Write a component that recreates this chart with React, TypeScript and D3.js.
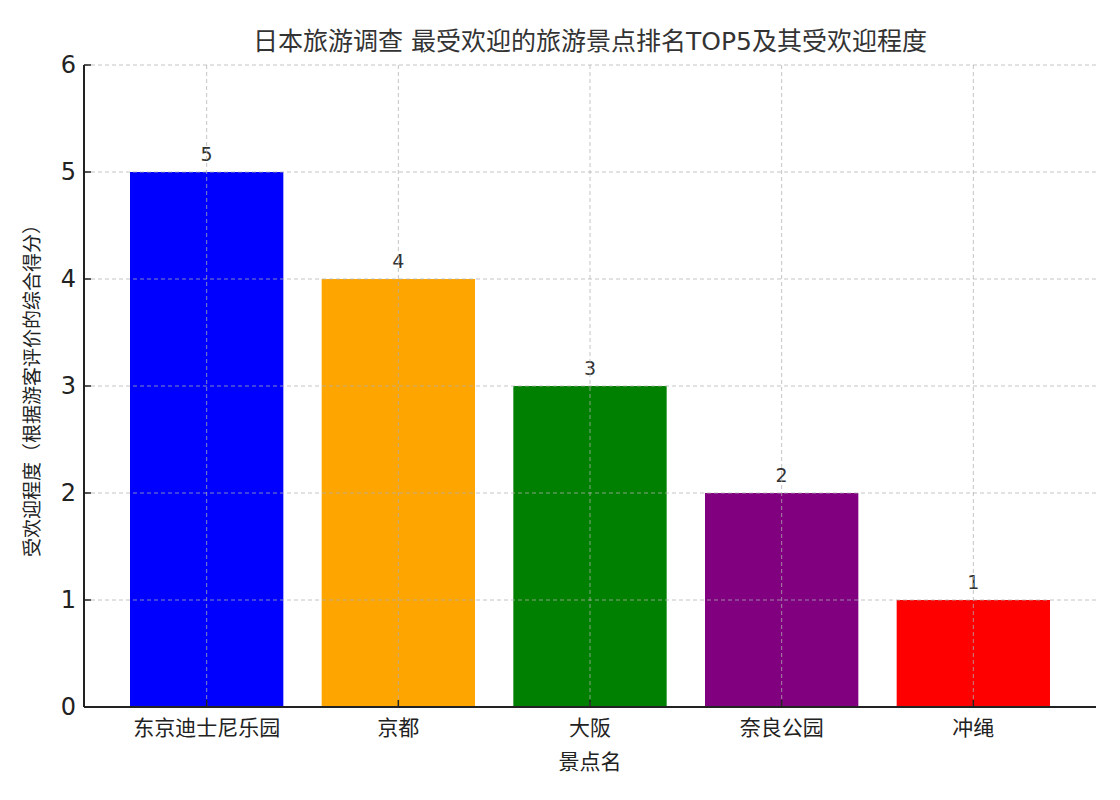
import React from "react"
import * as d3 from "d3"

const WIDTH = 1120
const HEIGHT = 800
const MARGIN = { top: 65, right: 24, bottom: 93, left: 84 }

const TITLE = "日本旅游调查 最受欢迎的旅游景点排名TOP5及其受欢迎程度"
const X_LABEL = "景点名"
const Y_LABEL = "受欢迎程度（根据游客评价的综合得分）"

const categories = ["东京迪士尼乐园", "京都", "大阪", "奈良公园", "冲绳"]
const values = [5, 4, 3, 2, 1]
const colors = ["#0000ff", "#ffa500", "#008000", "#800080", "#ff0000"]
const yTicks = [0, 1, 2, 3, 4, 5, 6]

const FONT = "'DejaVu Sans', 'Noto Sans CJK SC', sans-serif"

export default function App() {
    const boundsWidth = WIDTH - MARGIN.left - MARGIN.right
    const boundsHeight = HEIGHT - MARGIN.top - MARGIN.bottom

    const xScale = d3
        .scaleBand()
        .domain(categories)
        .range([0, boundsWidth])
        .paddingInner(0.2)
        .paddingOuter(0.24)

    const yScale = d3.scaleLinear().domain([0, 6]).range([boundsHeight, 0])

    const bars = categories.map((c, i) => {
        const x = xScale(c) ?? 0
        return (
            <g key={c}>
                <rect
                    x={x}
                    y={yScale(values[i])}
                    width={xScale.bandwidth()}
                    height={boundsHeight - yScale(values[i])}
                    fill={colors[i]}
                />
                <text
                    x={x + xScale.bandwidth() / 2}
                    y={yScale(values[i]) - 11}
                    textAnchor="middle"
                    fontSize={19}
                    fill="#333"
                >
                    {values[i]}
                </text>
            </g>
        )
    })

    const grid = (
        <g stroke="#b0b0b0" strokeOpacity={0.75} strokeDasharray="4,3" strokeWidth={1}>
            {yTicks.slice(1).map((t) => (
                <line key={"y" + t} x1={0} x2={boundsWidth} y1={yScale(t)} y2={yScale(t)} />
            ))}
            {categories.map((c) => {
                const cx = (xScale(c) ?? 0) + xScale.bandwidth() / 2
                return <line key={"x" + c} x1={cx} x2={cx} y1={0} y2={boundsHeight} />
            })}
        </g>
    )

    return (
        <svg width={WIDTH} height={HEIGHT} style={{ position: "absolute", left: 0, top: 0 }} fontFamily={FONT}>
            <rect width={WIDTH} height={HEIGHT} fill="#fff" />
            <text x={590} y={50} textAnchor="middle" fontSize={25} fill="#333">
                {TITLE}
            </text>
            <g transform={`translate(${MARGIN.left},${MARGIN.top})`}>
                {bars}
                {grid}
                {/* y axis */}
                {yTicks.map((t) => (
                    <g key={t}>
                        <line x1={0} x2={7} y1={yScale(t)} y2={yScale(t)} stroke="#222" strokeWidth={1.5} />
                        <text x={-8} y={yScale(t)} textAnchor="end" dominantBaseline="central" fontSize={24} fill="#222">
                            {t}
                        </text>
                    </g>
                ))}
                {/* x axis ticks & labels */}
                {categories.map((c) => {
                    const cx = (xScale(c) ?? 0) + xScale.bandwidth() / 2
                    return (
                        <g key={c}>
                            <line x1={cx} x2={cx} y1={boundsHeight} y2={boundsHeight - 7} stroke="#222" strokeWidth={1.5} />
                            <text x={cx} y={boundsHeight + 28} textAnchor="middle" fontSize={21} fill="#222">
                                {c}
                            </text>
                        </g>
                    )
                })}
                <line x1={0} x2={0} y1={0} y2={boundsHeight} stroke="#222" strokeWidth={2} />
                <line x1={0} x2={boundsWidth} y1={boundsHeight} y2={boundsHeight} stroke="#222" strokeWidth={2} />
                <text x={boundsWidth / 2} y={boundsHeight + 62} textAnchor="middle" fontSize={21} fill="#222">
                    {X_LABEL}
                </text>
                <text
                    transform={`translate(${-45},${boundsHeight / 2}) rotate(-90)`}
                    textAnchor="middle"
                    fontSize={19}
                    fill="#222"
                >
                    {Y_LABEL}
                </text>
            </g>
        </svg>
    )
}
